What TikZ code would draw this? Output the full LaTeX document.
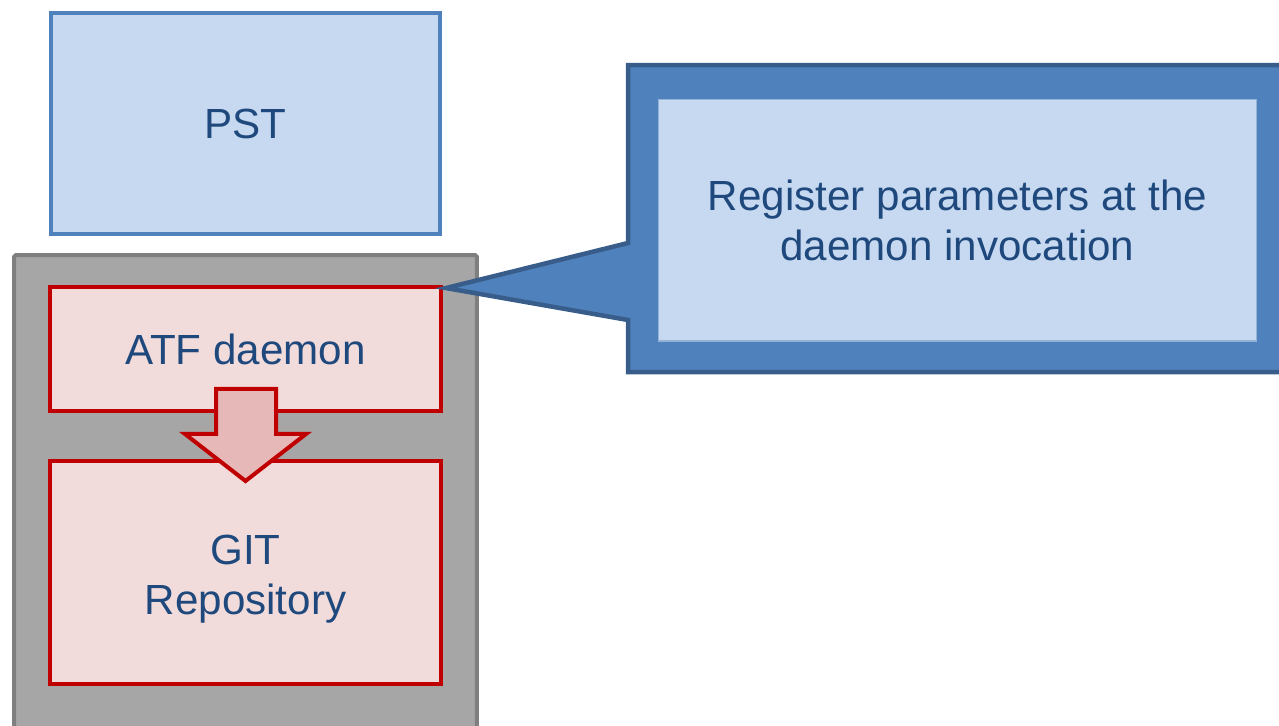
\documentclass[tikz,border=0pt]{standalone}
\usepackage{fontspec}
\setmainfont{Liberation Sans}
\usetikzlibrary{calc}

\definecolor{txtblue}{RGB}{31,73,125}
\definecolor{pstfill}{RGB}{198,217,241}
\definecolor{pstedge}{RGB}{79,129,189}
\definecolor{hostfill}{RGB}{166,166,166}
\definecolor{hostedge}{RGB}{127,127,127}
\definecolor{redfill}{RGB}{242,220,219}
\definecolor{rededge}{RGB}{192,0,0}
\definecolor{arrowfill}{RGB}{230,185,184}
\definecolor{calloutfill}{RGB}{79,129,189}
\definecolor{calloutedge}{RGB}{56,93,138}
\definecolor{noteedge}{RGB}{149,179,215}

\begin{document}
\begin{tikzpicture}[x=0.02cm,y=-0.02cm,
    box/.style={draw,line width=0.08cm,inner sep=0pt,align=center,
      text=txtblue,font=\fontsize{24}{28.5}\selectfont},
    pstbox/.style={box,draw=pstedge,fill=pstfill},
    redbox/.style={box,draw=rededge,fill=redfill},
    downarrow/.style={draw=rededge,fill=arrowfill,line width=0.08cm,line join=miter}]
  \useasboundingbox (0,0) rectangle (1279,725);
  \clip (0,0) rectangle (1279,725);

  % host machine and its parts
  \node[box,draw=hostedge,fill=hostfill,rounded corners=1pt,
    minimum width=9.26cm,minimum height=10.1cm] (host) at (245.5,507.5) {};
  \node[pstbox,minimum width=7.78cm,minimum height=4.42cm] (pst) at (245.5,123.5) {PST};
  \node[redbox,minimum width=7.82cm,minimum height=2.48cm] (atf) at (245.5,349) {ATF daemon};
  \node[redbox,minimum width=7.82cm,minimum height=4.46cm] (git) at (245.5,572.5)
    {\rule{0pt}{24pt}GIT\\Repository};

  % block arrow daemon -> repository
  \draw[downarrow] (atf.south) ++(-29.5,-24) -- ++(60,0) -- ++(0,45) -- ++(30,0)
    -- ++(-60.5,47) -- ++(-60.5,-47) -- ++(31,0) -- cycle;

  % callout
  \draw[draw=calloutedge,fill=calloutfill,line width=0.09cm,line join=miter]
    (628,65) -- (1300,65) -- (1300,372) -- (628,372) -- (628,320)
    -- ($(atf.north east)+(3,3)$) -- (628,243) -- cycle;
  \node[box,draw=noteedge,line width=0.6pt,fill=pstfill,
    minimum width=11.98cm,minimum height=4.84cm] (note) at (957.5,220)
    {Register parameters at the\\daemon invocation};
\end{tikzpicture}
\end{document}
